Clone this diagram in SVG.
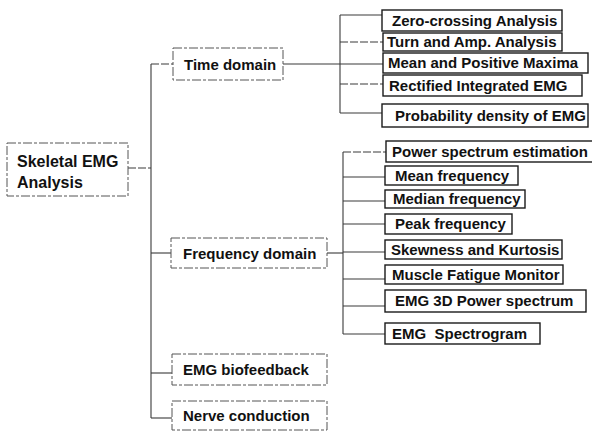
<svg xmlns="http://www.w3.org/2000/svg" width="592" height="433" viewBox="0 0 592 433">
<style>
.bg{fill:#ffffff}
.pbox{fill:none;stroke:#555;stroke-width:1;stroke-dasharray:9 2 3 2}
.cbox{fill:none;stroke:#1a1a1a;stroke-width:1.4}
.lbl{font-family:"Liberation Sans",Arial,sans-serif;font-weight:bold;font-size:15px;fill:#111;white-space:pre}
.root{font-size:16px}
.con line{stroke:#3a3a3a;stroke-width:1.1;fill:none}
.con .dl{stroke-dasharray:8 2}
</style>
<rect class="bg" x="0" y="0" width="592" height="433"/>
<g id="connectors" class="con">
  <line x1="128" y1="168" x2="151" y2="168" class="dl"/>
  <line x1="151" y1="64" x2="151" y2="418"/>
  <line x1="151" y1="64" x2="173" y2="64" class="dl"/>
  <line x1="151" y1="253" x2="171" y2="253"/>
  <line x1="151" y1="373" x2="172" y2="373"/>
  <line x1="151" y1="418" x2="172" y2="418"/>
  <line x1="283" y1="64" x2="340" y2="64"/>
  <line x1="340" y1="15" x2="340" y2="113"/>
  <line x1="340" y1="15" x2="382" y2="15"/>
  <line x1="340" y1="42" x2="383" y2="42" class="dl"/>
  <line x1="340" y1="64" x2="383" y2="64"/>
  <line x1="340" y1="84" x2="383" y2="84" class="dl"/>
  <line x1="340" y1="113" x2="382" y2="113"/>
  <line x1="327" y1="253" x2="343" y2="253"/>
  <line x1="343" y1="152" x2="343" y2="334"/>
  <line x1="343" y1="152" x2="386" y2="152" class="dl"/>
  <line x1="343" y1="177" x2="385" y2="177"/>
  <line x1="343" y1="201" x2="385" y2="201"/>
  <line x1="343" y1="224" x2="385" y2="224"/>
  <line x1="343" y1="252" x2="385" y2="252"/>
  <line x1="343" y1="279" x2="385" y2="279"/>
  <line x1="343" y1="306" x2="385" y2="306"/>
  <line x1="343" y1="334" x2="385" y2="334"/>
</g>
<g id="root">
  <rect class="pbox" x="7" y="143" width="121" height="53"/>
  <text class="lbl root" x="17" y="167">Skeletal EMG</text>
  <text class="lbl root" x="17" y="188">Analysis</text>
</g>
<g id="time-domain">
  <rect class="pbox" x="173" y="48" width="110" height="32"/>
  <text class="lbl" x="184" y="70">Time domain</text>
</g>
<g id="frequency-domain">
  <rect class="pbox" x="171" y="238" width="156" height="30"/>
  <text class="lbl" x="183" y="259">Frequency domain</text>
</g>
<g id="emg-biofeedback">
  <rect class="pbox" x="172" y="354" width="155" height="31"/>
  <text class="lbl" x="183" y="375">EMG biofeedback</text>
</g>
<g id="nerve-conduction">
  <rect class="pbox" x="172" y="401" width="155" height="29"/>
  <text class="lbl" x="183" y="421">Nerve conduction</text>
</g>
<g id="zero-crossing">
  <rect class="cbox" x="382" y="10" width="180" height="21"/>
  <text class="lbl" x="392" y="26">Zero-crossing Analysis</text>
</g>
<g id="turn-amp">
  <rect class="cbox" x="383" y="33" width="179" height="18"/>
  <text class="lbl" x="387" y="47">Turn and Amp. Analysis</text>
</g>
<g id="mean-positive-maxima">
  <rect class="cbox" x="383" y="53" width="205" height="20"/>
  <text class="lbl" x="388" y="68">Mean and Positive Maxima</text>
</g>
<g id="rectified-integrated">
  <rect class="cbox" x="383" y="75" width="199" height="21"/>
  <text class="lbl" x="389" y="91">Rectified Integrated EMG</text>
</g>
<g id="probability-density">
  <rect class="cbox" x="382" y="104" width="206" height="23"/>
  <text class="lbl" x="395" y="121">Probability density of EMG</text>
</g>
<g id="power-spectrum">
  <rect class="cbox" x="386" y="141" width="210" height="21"/>
  <text class="lbl" x="392" y="157">Power spectrum estimation</text>
</g>
<g id="mean-frequency">
  <rect class="cbox" x="385" y="166" width="133" height="19"/>
  <text class="lbl" x="395" y="181">Mean frequency</text>
</g>
<g id="median-frequency">
  <rect class="cbox" x="385" y="190" width="140" height="18"/>
  <text class="lbl" x="393" y="204">Median frequency</text>
</g>
<g id="peak-frequency">
  <rect class="cbox" x="385" y="214" width="127" height="20"/>
  <text class="lbl" x="395" y="229">Peak frequency</text>
</g>
<g id="skewness-kurtosis">
  <rect class="cbox" x="385" y="240" width="177" height="19"/>
  <text class="lbl" x="391" y="255">Skewness and Kurtosis</text>
</g>
<g id="muscle-fatigue">
  <rect class="cbox" x="385" y="265" width="178" height="19"/>
  <text class="lbl" x="392" y="280">Muscle Fatigue Monitor</text>
</g>
<g id="emg-3d-power">
  <rect class="cbox" x="385" y="290" width="201" height="22"/>
  <text class="lbl" x="395" y="306">EMG 3D Power spectrum</text>
</g>
<g id="emg-spectrogram">
  <rect class="cbox" x="385" y="323" width="155" height="21"/>
  <text class="lbl" x="392" y="339">EMG  Spectrogram</text>
</g>
</svg>
